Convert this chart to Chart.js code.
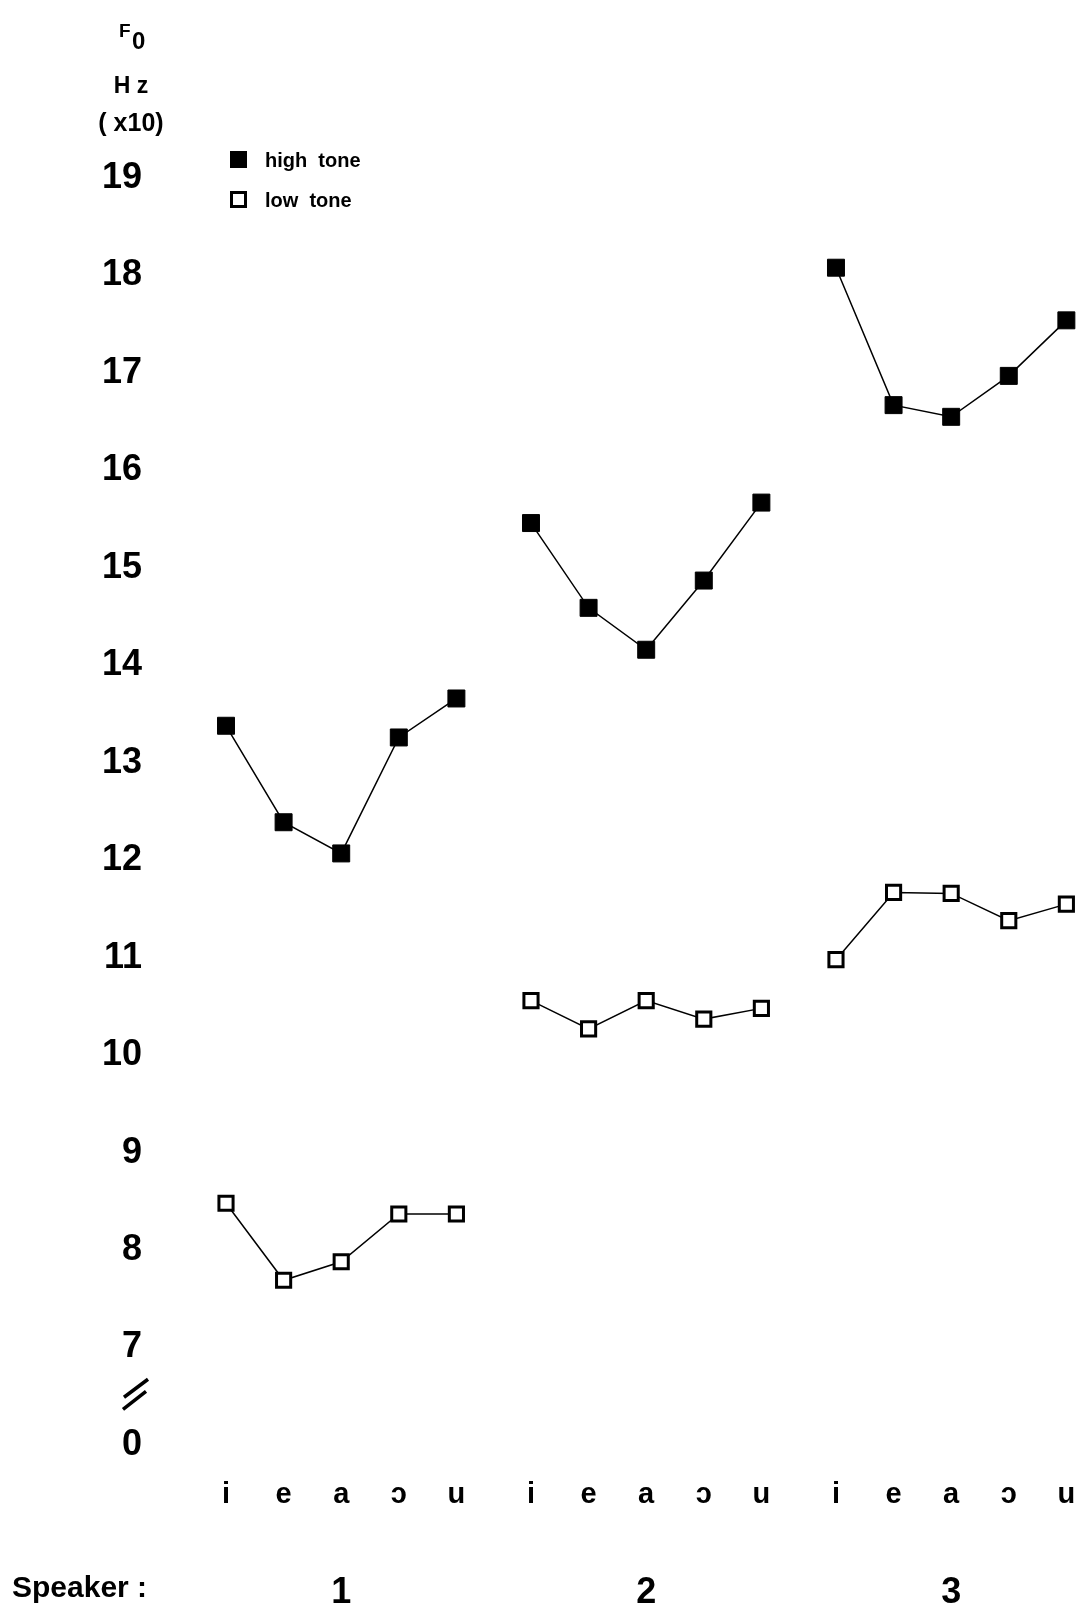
<!DOCTYPE html>
<html>
<head>
<meta charset="utf-8">
<script src="https://cdn.jsdelivr.net/npm/chart.js@4.4.0/dist/chart.umd.min.js"></script>
<style>
  body { margin: 0; background: #fff; }
  #wrap { width: 1081px; height: 1606px; position: relative; }
</style>
</head>
<body>
<div id="wrap"><canvas id="f0_chart"></canvas></div>
<script>
// values, F0 in Hz x10
const vowels = ['i', 'e', 'a', 'ɔ', 'u'];
const speakers = ['1', '2', '3'];

const highTone1 = [13.38, 12.39, 12.07, 13.26, 13.66];
const highTone2 = [15.46, 14.59, 14.16, 14.87, 15.67];
const highTone3 = [18.08, 16.67, 16.55, 16.97, 17.54];

const lowTone1 = [8.48, 7.69, 7.88, 8.37, 8.37];
const lowTone2 = [10.56, 10.27, 10.56, 10.37, 10.48];
const lowTone3 = [10.98, 11.67, 11.66, 11.38, 11.55];

// y axis is broken: the tick below 7 stands for 0
const yTickValues = [6, 7, 8, 9, 10, 11, 12, 13, 14, 15, 16, 17, 18, 19];
const yTickLabels = ['0', '7', '8', '9', '10', '11', '12', '13', '14', '15', '16', '17', '18', '19'];

const legendLabels = ['high tone', 'low tone'];

const FONT = "'Liberation Sans', Arial, sans-serif";
const groupStep = 5.295;   // distance between speaker groups on the x axis

const xPos = (g, j) => j + g * groupStep;
const points = (vals, g) => vals.map((v, j) => ({x: xPos(g, j), y: v}));

const vowelTicks = [];
speakers.forEach((s, g) => vowels.forEach((v, j) => vowelTicks.push(xPos(g, j))));
const speakerTicks = speakers.map((s, g) => xPos(g, 2));

const highStyle = {
    borderColor: '#000', borderWidth: 1.5,
    pointStyle: 'rect', pointRadius: 12, pointBorderWidth: 1,
    pointBackgroundColor: '#000', pointBorderColor: '#000'
};
const lowStyle = {
    borderColor: '#000', borderWidth: 1.5,
    pointStyle: 'rect', pointRadius: 10, pointBorderWidth: 3,
    pointBackgroundColor: '#fff', pointBorderColor: '#000'
};

// keep the chart area where the axes say, no extra label padding
const noPad = s => { s.paddingTop = 0; s.paddingBottom = 0; s.paddingLeft = 0; s.paddingRight = 0; };

const extras = {
    id: 'extras',
    afterDraw(chart) {
        const ctx = chart.ctx;
        const y = chart.scales.y;
        ctx.save();
        ctx.fillStyle = '#000';
        ctx.strokeStyle = '#000';
        ctx.textBaseline = 'middle';

        // header above the y ticks
        ctx.textAlign = 'left';
        ctx.font = 'bold 19px ' + FONT;
        ctx.fillText('F', 119, 32);
        ctx.font = 'bold 24px ' + FONT;
        ctx.fillText('0', 132, 42);
        ctx.textAlign = 'center';
        ctx.font = 'bold 23px ' + FONT;
        ctx.fillText('H z', 131, 87);
        ctx.font = 'bold 25px ' + FONT;
        ctx.fillText('( x10)', 131, 124);

        // axis break between 7 and 0
        const yb = y.getPixelForValue(6.5);
        ctx.lineWidth = 3.5;
        ctx.beginPath();
        ctx.moveTo(124, yb + 1); ctx.lineTo(148, yb - 17);
        ctx.moveTo(123, yb + 13); ctx.lineTo(146, yb - 5);
        ctx.stroke();

        // legend
        const sets = [chart.data.datasets[0], chart.data.datasets[3]];
        sets.forEach((ds, i) => {
            const ly = 159 + i * 40;
            ctx.fillStyle = ds.pointBackgroundColor;
            ctx.fillRect(230, ly - 8, 17, 17);
            ctx.lineWidth = ds.pointBorderWidth;
            ctx.strokeStyle = ds.pointBorderColor;
            ctx.strokeRect(230 + ds.pointBorderWidth / 2, ly - 8 + ds.pointBorderWidth / 2,
                17 - ds.pointBorderWidth, 17 - ds.pointBorderWidth);
            ctx.fillStyle = '#000';
            ctx.textAlign = 'left';
            ctx.font = 'bold 20px ' + FONT;
            ctx.fillText(legendLabels[i].replace(' ', '  '), 265, ly + 2);
        });

        // speaker row caption
        const x2 = chart.scales.x2;
        ctx.textAlign = 'left';
        ctx.font = 'bold 30px ' + FONT;
        ctx.fillText('Speaker :', 12, x2.top + 80);
        ctx.restore();
    }
};

const make_chart = () => {
    const ctx = document.getElementById('f0_chart').getContext('2d');
    const highs = [highTone1, highTone2, highTone3];
    const lows = [lowTone1, lowTone2, lowTone3];
    const datasets = [];
    highs.forEach((d, g) => datasets.push(Object.assign({label: legendLabels[0], data: points(d, g)}, highStyle)));
    lows.forEach((d, g) => datasets.push(Object.assign({label: legendLabels[1], data: points(d, g)}, lowStyle)));

    const xMin = -1.146, xMax = 14.844;
    new Chart(ctx, {
        type: 'line',
        data: {datasets: datasets},
        options: {
            responsive: true,
            maintainAspectRatio: false,
            animation: false,
            layout: {padding: 0, autoPadding: false},
            plugins: {legend: {display: false}, tooltip: {enabled: false}},
            scales: {
                x: {
                    type: 'linear', min: xMin, max: xMax, weight: 0,
                    grid: {display: false}, border: {display: false},
                    afterBuildTicks: s => { s.ticks = vowelTicks.map(v => ({value: v})); },
                    afterFit: s => { s.height = 49; noPad(s); },
                    ticks: {
                        padding: 10, autoSkip: false, maxRotation: 0, color: '#000',
                        font: {family: FONT, size: 29, weight: 'bold'},
                        callback: (v, i) => vowels[i % vowels.length]
                    }
                },
                x2: {
                    type: 'linear', position: 'bottom', min: xMin, max: xMax, weight: 1,
                    grid: {display: false}, border: {display: false},
                    afterBuildTicks: s => { s.ticks = speakerTicks.map(v => ({value: v})); },
                    afterFit: s => { s.height = 97; noPad(s); },
                    ticks: {
                        padding: 58, autoSkip: false, maxRotation: 0, color: '#000',
                        font: {family: FONT, size: 36, weight: 'bold', lineHeight: 1},
                        callback: (v, i) => speakers[i]
                    }
                },
                y: {
                    min: 5.846, max: 20.827,
                    grid: {display: false}, border: {display: false},
                    afterBuildTicks: s => { s.ticks = yTickValues.map(v => ({value: v})); },
                    afterFit: s => { s.width = 160; noPad(s); },
                    ticks: {
                        padding: 10, autoSkip: false, color: '#000',
                        font: {family: FONT, size: 36, weight: 'bold'},
                        callback: (v, i) => yTickLabels[i]
                    }
                }
            }
        },
        plugins: [extras]
    });
}

make_chart();
</script>
</body>
</html>
